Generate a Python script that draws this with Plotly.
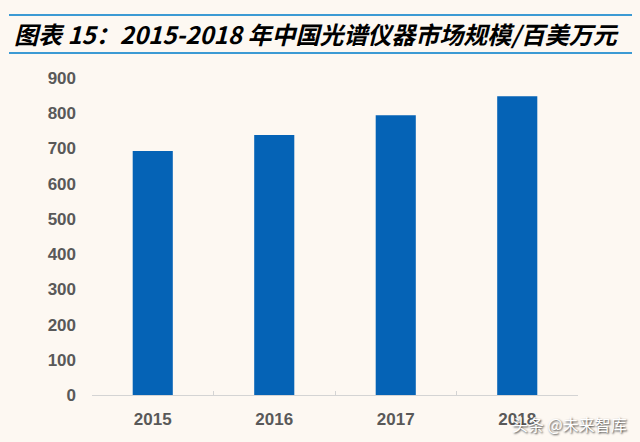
import plotly.graph_objects as go

years = ["2015", "2016", "2017", "2018"]
values = [693, 738, 794, 848]
y_ticks = [0, 100, 200, 300, 400, 500, 600, 700, 800, 900]

title_text = "图表 15：2015-2018 年中国光谱仪器市场规模/百美万元"
watermark = "头条 @未来智库"

W, H = 640, 442
L, R, T, B = 92, 62, 78, 47
pw = W - L - R
ph = H - T - B

def px_x(x):
    return (x - L) / pw

def px_y(y):
    return (H - B - y) / ph

fig = go.Figure()
fig.add_trace(go.Bar(
    x=years, y=values,
    marker=dict(color="#0563B6", line=dict(width=0)),
    width=0.33,
))

bg = "#FDF8F2"
line_col = "#3C9AD4"

fig.update_layout(
    width=W, height=H,
    margin=dict(l=L, r=R, t=T, b=B),
    paper_bgcolor=bg, plot_bgcolor=bg,
    showlegend=False,
    xaxis=dict(
        type="category",
        showline=True, linecolor="#D4D4D4", linewidth=1,
        ticks="inside", tickson="boundaries", ticklen=4, tickcolor="#D4D4D4",
        showgrid=False,
        tickfont=dict(family="Liberation Sans, Arial", size=17, color="#595959", weight="bold"),
        ticklabelstandoff=9,
    ),
    yaxis=dict(
        range=[0, 900], tickvals=y_ticks,
        showgrid=False, zeroline=False, showline=False,
        tickfont=dict(family="Liberation Sans, Arial", size=17, color="#595959", weight="bold"),
        ticklabelstandoff=15,
    ),
    shapes=[
        dict(type="line", xref="paper", yref="paper",
             x0=px_x(9), x1=px_x(632), y0=px_y(15), y1=px_y(15),
             line=dict(color=line_col, width=2)),
        dict(type="line", xref="paper", yref="paper",
             x0=px_x(9), x1=px_x(632), y0=px_y(53), y1=px_y(53),
             line=dict(color=line_col, width=2)),
    ],
    annotations=[
        dict(text=title_text, xref="paper", yref="paper",
             x=px_x(12), y=px_y(33), xanchor="left", yanchor="middle",
             showarrow=False,
             font=dict(family="Noto Sans CJK SC, Liberation Sans", size=24,
                       color="#000000", weight="bold", style="italic")),
        dict(text=watermark, xref="paper", yref="paper",
             x=px_x(569), y=px_y(424), xanchor="center", yanchor="middle",
             showarrow=False,
             font=dict(family="Noto Sans CJK SC", size=16, color="#FFFFFF",
                       shadow="1px 1px 2px #333333")),
    ],
)

fig.write_html("out.html")
